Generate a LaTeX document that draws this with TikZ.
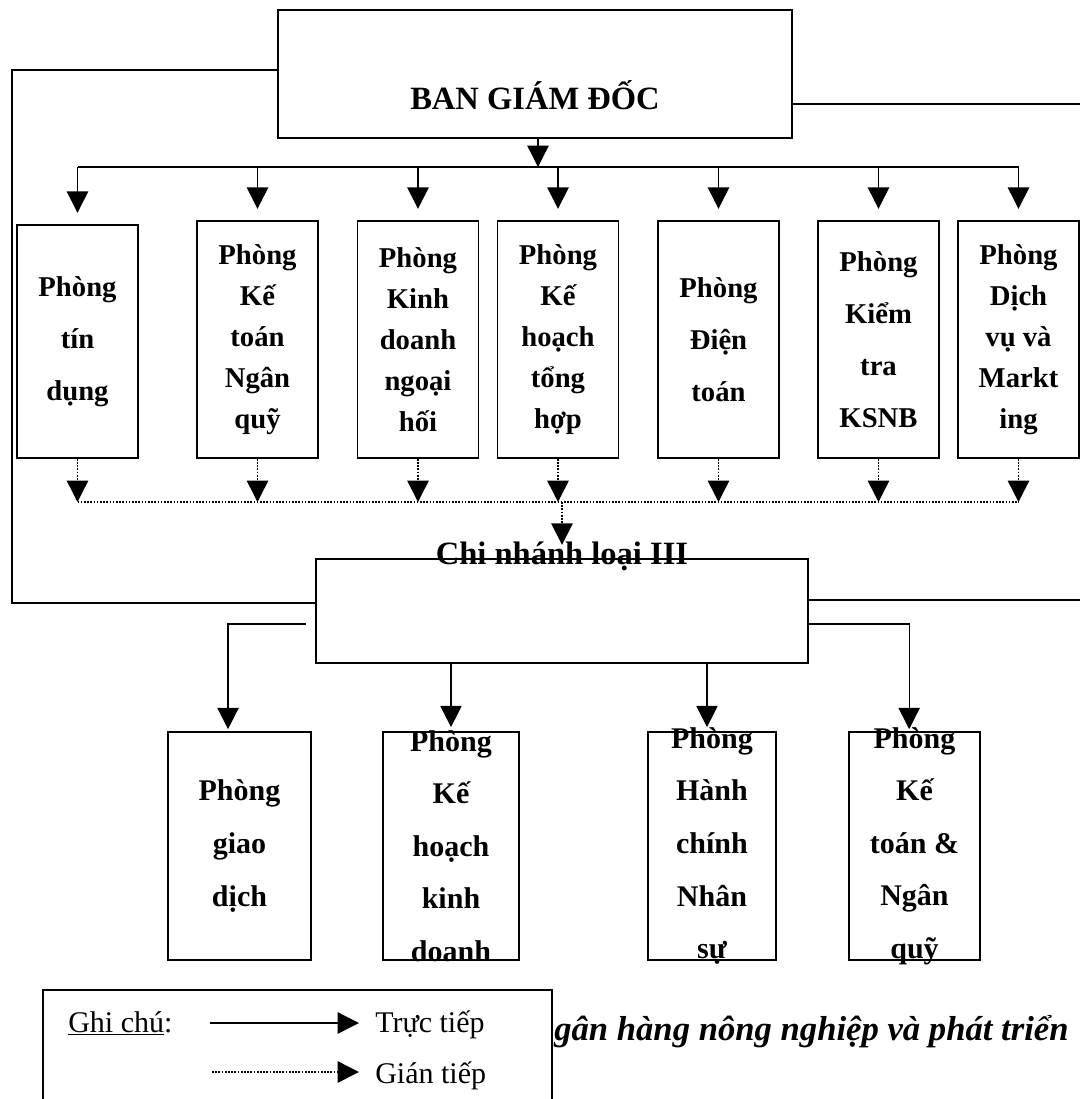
\documentclass[tikz,border=0pt]{standalone}
\usepackage{fontspec}
\setmainfont{Liberation Serif}
\usetikzlibrary{arrows.meta}
\begin{document}
\begin{tikzpicture}[x=0.75pt,y=-0.75pt,
  unit/.style={draw,line width=1.3pt,inner sep=0pt},
  topunit/.style={unit,minimum width=90.75pt,minimum height=177.75pt},
  lbl5/.style={align=center,inner sep=0pt,font=\bfseries\fontsize{21.5}{30.75}\selectfont},
  lbl3/.style={align=center,inner sep=0pt,font=\bfseries\fontsize{21.5}{39}\selectfont},
  lblb/.style={align=center,inner sep=0pt,font=\bfseries\fontsize{22.5}{39.4}\selectfont},
  title/.style={inner sep=0pt,font=\bfseries\fontsize{24.4}{29}\selectfont},
  leg/.style={inner sep=0pt,font=\fontsize{22.5}{27}\selectfont},
  captxt/.style={inner sep=0pt,font=\bfseries\itshape\fontsize{26}{30}\selectfont},
  conn/.style={line width=1pt},
  solidarr/.style={line width=1pt,-{Triangle[length=16pt,width=16pt]}},
  dotline/.style={line width=1.1pt,dash pattern=on 1.3pt off 1.1pt},
  dotarr/.style={dotline,-{Triangle[length=16pt,width=16pt]}}
]
\useasboundingbox (0,0) rectangle (1080,1099);
\clip (0,0) rectangle (1080,1099);

% top box
\node[unit,minimum width=385.5pt,minimum height=96pt] (ban) at (535,74) {};
\node[title,anchor=base] (bantxt) at ([yshift=-26.25pt]ban.center) {BAN GIÁM ĐỐC};

% departments row
\node[unit,minimum width=90.75pt,minimum height=174.75pt] (t1) at (77.5,341.5) {};
\node[topunit] (t2) at (257.5,339.5) {};
\node[topunit] (t3) at (418,339.5) {};
\node[topunit] (t4) at (558,339.5) {};
\node[topunit] (t5) at (718.5,339.5) {};
\node[topunit] (t6) at (878.5,339.5) {};
\node[topunit] (t7) at (1018.5,339.5) {};
\node[lbl3] (t1t) at (t1) {Phòng\\tín\\dụng};
\node[lbl5] (t2t) at (t2) {Phòng\\Kế\\toán\\Ngân\\quỹ};
\node[lbl5] (t3t) at (t3) {Phòng\\Kinh\\doanh\\ngoại\\hối};
\node[lbl5] (t4t) at (t4) {Phòng\\Kế\\hoạch\\tổng\\hợp};
\node[lbl3] (t5t) at (t5) {Phòng\\Điện\\toán};
\node[lbl3] (t6t) at (t6) {Phòng\\Kiểm\\tra\\KSNB};
\node[lbl5] (t7t) at (t7) {Phòng\\Dịch\\vụ và\\Markt\\ing};

% branch box
\node[unit,minimum width=369pt,minimum height=78pt] (cn) at (562,611) {};
\node[title,anchor=base] (cntxt) at ([yshift=-4.5pt]cn.north) {Chi nhánh loại III};

% bottom row
\node[unit,minimum width=107.25pt,minimum height=171pt] (b1) at (239.5,846) {};
\node[unit,minimum width=102pt,minimum height=171pt] (b2) at (451,846) {};
\node[unit,minimum width=96pt,minimum height=171pt] (b3) at (712,846) {};
\node[unit,minimum width=98.25pt,minimum height=171pt] (b4) at (914.5,846) {};
\node[lblb] (b1t) at (b1) {Phòng\\giao\\dịch};
\node[lblb] (b2t) at (b2) {Phòng\\Kế\\hoạch\\kinh\\doanh};
\node[lblb] (b3t) at (b3) {Phòng\\Hành\\chính\\Nhân\\sự};
\node[lblb] (b4t) at (b4) {Phòng\\Kế\\toán \&\\Ngân\\quỹ};

% direct connectors (top)
\coordinate (busy) at (0,167);
\coordinate (bana) at ([xshift=2.25pt]ban.south);
\draw[solidarr] (bana) -- (bana |- busy);
\draw[conn] (t1.north |- busy) -- (t7.north |- busy);
\foreach \i in {1,...,7}
  \draw[solidarr,shorten >=8.5pt] (t\i.north |- busy) -- (t\i.north);

% indirect connectors
\coordinate (dbus) at (0,502);
\foreach \i in {1,...,7}
  \draw[dotarr] (t\i.south) -- (t\i.south |- dbus);
\draw[dotline] (t1.south |- dbus) -- (t7.south |- dbus);
\draw[dotarr,shorten >=10pt] (cn.north |- dbus) -- (cn.north);

% side lines
\coordinate (lx) at (12,300);
\coordinate (rx) at (1085,0);
\draw[conn] ([yshift=3pt]ban.west) -| (lx) |- ([yshift=6pt]cn.west);
\draw[conn] ([yshift=-22.5pt]ban.east) -- ([yshift=-22.5pt]ban.east -| rx);
\draw[conn] ([yshift=8.25pt]cn.east) -- ([yshift=8.25pt]cn.east -| rx);

% direct connectors (bottom)
\coordinate (b1a) at ([xshift=-8.6pt]b1.north);
\coordinate (b3a) at ([xshift=-3.75pt]b3.north);
\coordinate (b4a) at ([xshift=-4pt]b4.north);
\draw[solidarr,shorten >=1.5pt] ([xshift=-6.75pt,yshift=-9.75pt]cn.west) -| (b1a);
\draw[solidarr,shorten >=3pt] (b2.north |- cn.south) -- (b2.north);
\draw[solidarr,shorten >=3pt] (b3a |- cn.south) -- (b3a);
\draw[solidarr,shorten >=1.5pt] ([yshift=-9.75pt]cn.east) -| (b4a);

% legend
\draw[line width=1.2pt] (43,1120) |- (552,990) -- (552,1120);
\node[leg,anchor=base west] (ghichu) at (68,1032) {\underline{Ghi chú}:};
\coordinate (l1s) at (210,1023);
\node[leg,anchor=base west] (truc) at (375,1032) {Trực tiếp};
\draw[solidarr,shorten >=12pt] (l1s) -- (l1s -| truc.west);
\coordinate (l2s) at (212,1072);
\node[leg,anchor=base west] (gian) at (375,1083) {Gián tiếp};
\draw[dotarr,shorten >=12pt] (l2s) -- (l2s -| gian.west);

% caption
\node[captxt,anchor=base west] (caption) at (554,1040) {gân hàng nông nghiệp và phát triển};
\end{tikzpicture}
\end{document}
